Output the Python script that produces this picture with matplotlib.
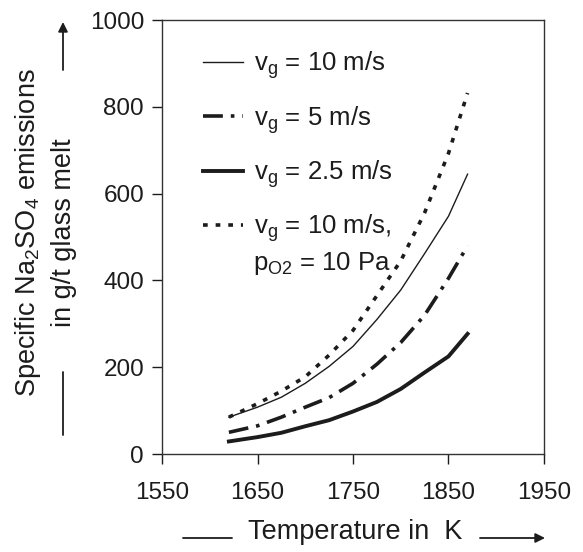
import matplotlib
matplotlib.use("Agg")
import matplotlib.pyplot as plt

plt.rcParams['font.family'] = ['Liberation Sans', 'DejaVu Sans']
plt.rcParams['mathtext.fontset'] = 'custom'
plt.rcParams['mathtext.rm'] = 'Liberation Sans'
plt.rcParams['mathtext.it'] = 'Liberation Sans:italic'

# data
temperature = [1620, 1650, 1675, 1700, 1725, 1750, 1775, 1800, 1825, 1850, 1870]
vg10_po2 = [85, 116, 145, 178, 228, 285, 365, 445, 556, 693, 832]
vg10 = [85, 108, 131, 163, 202, 248, 310, 378, 462, 548, 645]
vg5 = [50, 65, 85, 108, 130, 163, 207, 257, 320, 405, 480]
vg25 = [29, 39, 49, 64, 78, 98, 120, 150, 188, 225, 277]

x_ticks = [1550, 1650, 1750, 1850, 1950]
y_ticks = [0, 200, 400, 600, 800, 1000]

ink = '#1c1c1c'
fs_tick = 17.5
fs_leg = 18.5
fs_lab = 19.5

fig = plt.figure(figsize=(5.83, 5.52), dpi=100)
ax = fig.add_axes([0.278, 0.1775, 0.655, 0.786])

l1, = ax.plot(temperature, vg10, color=ink, lw=1.0)
l2, = ax.plot(temperature, vg5, color=ink, lw=2.6, linestyle=(0, (5.5, 2.2, 1.0, 2.2)))
l3, = ax.plot(temperature, vg25, color=ink, lw=2.8)
l4, = ax.plot(temperature, vg10_po2, color=ink, lw=2.6, linestyle=(0, (1.3, 2.2)))

ax.set_xlim(1550, 1950)
ax.set_ylim(0, 1000)
ax.set_xticks(x_ticks)
ax.set_yticks(y_ticks)
ax.tick_params(direction='out', length=7, width=1, colors=ink, labelsize=fs_tick, pad=6)
ax.tick_params(axis='x', pad=13)
for s in ax.spines.values():
    s.set_color('#333333')
    s.set_linewidth(1.0)

leg = ax.legend([l1, l2, l3, l4],
                [r'v$_\mathrm{g}$ = 10 m/s', r'v$_\mathrm{g}$ = 5 m/s',
                 r'v$_\mathrm{g}$ = 2.5 m/s', r'v$_\mathrm{g}$ = 10 m/s,'],
                loc='upper left', bbox_to_anchor=(0.107, 0.932), frameon=False,
                fontsize=fs_leg, handlelength=1.55, handletextpad=0.43,
                borderpad=0, borderaxespad=0, labelspacing=0.88)
for t in leg.get_texts():
    t.set_color(ink)
ax.text(0.238, 0.438, r'p$_\mathrm{O2}$ = 10 Pa', transform=ax.transAxes,
        fontsize=fs_leg, color=ink, va='center', ha='left')

# axis titles with their arrows
fig.text(355 / 583, 1 - 532 / 552, 'Temperature in  K', fontsize=fs_lab, color=ink,
         ha='center', va='center')
fig.text(45 / 583, 1 - 233 / 552,
         'Specific Na$_\\mathrm{2}$SO$_\\mathrm{4}$ emissions\nin g/t glass melt',
         fontsize=fs_lab, color=ink, ha='center', va='center', rotation=90,
         linespacing=1.4, multialignment='center')

arrow = dict(arrowstyle='-|>', color=ink, lw=1.3, mutation_scale=14, shrinkA=0, shrinkB=0)
plain = dict(arrowstyle='-', color=ink, lw=1.3, shrinkA=0, shrinkB=0)
ax.annotate('', xy=(545, 552 - 538), xytext=(480, 552 - 538), xycoords='figure pixels',
            textcoords='figure pixels', arrowprops=arrow, annotation_clip=False)
ax.annotate('', xy=(232, 552 - 538), xytext=(183, 552 - 538), xycoords='figure pixels',
            textcoords='figure pixels', arrowprops=plain, annotation_clip=False)
ax.annotate('', xy=(63, 552 - 22), xytext=(63, 552 - 70), xycoords='figure pixels',
            textcoords='figure pixels', arrowprops=arrow, annotation_clip=False)
ax.annotate('', xy=(63, 552 - 372), xytext=(63, 552 - 435), xycoords='figure pixels',
            textcoords='figure pixels', arrowprops=plain, annotation_clip=False)

fig.savefig('out.png', dpi=100)
